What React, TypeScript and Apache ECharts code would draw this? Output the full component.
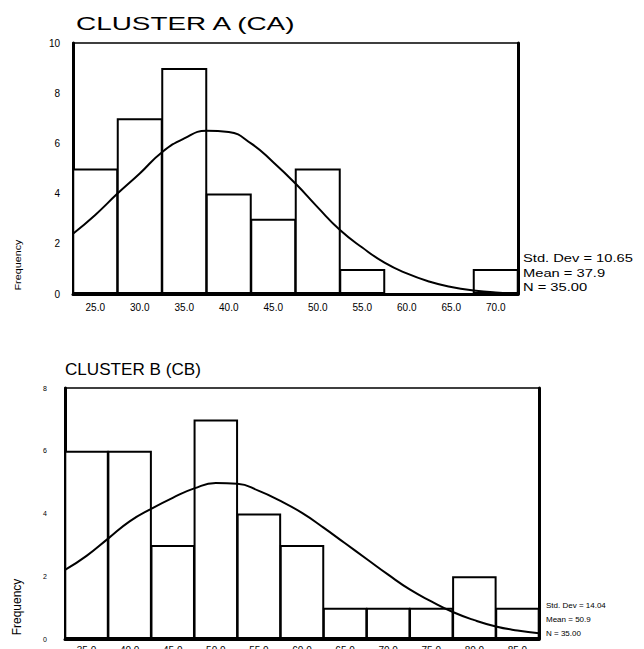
import React, { useEffect, useRef } from "react";
import * as echarts from "echarts";

// Cluster A histogram
const binsA = ["25.0", "30.0", "35.0", "40.0", "45.0", "50.0", "55.0", "60.0", "65.0", "70.0"];
const countsA = [5, 7, 9, 4, 3, 5, 1, 0, 0, 1];
const curveXA = [22.5, 25, 27.5, 30, 32.5, 35, 37.5, 40, 42.5, 45, 47.5, 50, 52.5, 55, 57.5, 60, 62.5, 65, 67.5, 70, 72.5];
const curveYA = [2.4, 3.15, 4.0, 4.8, 5.65, 6.2, 6.5, 6.45, 6.0, 5.25, 4.4, 3.45, 2.55, 1.85, 1.25, 0.82, 0.5, 0.28, 0.14, 0.06, 0.03];
const statsA = ["Std. Dev = 10.65", "Mean = 37.9", "N = 35.00"];

// Cluster B histogram
const binsB = ["35.0", "40.0", "45.0", "50.0", "55.0", "60.0", "65.0", "70.0", "75.0", "80.0", "85.0"];
const countsB = [6, 6, 3, 7, 4, 3, 1, 1, 1, 2, 1];
const curveXB = [32.5, 35, 37.5, 40, 42.5, 45, 47.5, 50, 52.5, 55, 57.5, 60, 62.5, 65, 67.5, 70, 72.5, 75, 77.5, 80, 82.5, 85, 87.5];
const curveYB = [2.2, 2.65, 3.2, 3.75, 4.15, 4.5, 4.8, 4.97, 4.95, 4.72, 4.4, 4.02, 3.55, 3.05, 2.55, 2.05, 1.58, 1.2, 0.86, 0.6, 0.4, 0.27, 0.18];
const statsB = ["Std. Dev = 14.04", "Mean = 50.9", "N = 35.00"];

const FONT = "Liberation Sans, Arial, sans-serif";

export default function App() {
  const ref = useRef<HTMLDivElement>(null);
  useEffect(() => {
    document.body.style.margin = "0";
    if (!ref.current) return;
    const chart = echarts.init(ref.current, undefined, { renderer: "svg" });
    const black = "#000";
    const axisLine = { show: true, lineStyle: { color: black, width: 3 } };
    const option: any = {
      animation: false,
      backgroundColor: "#fff",
      textStyle: { fontFamily: FONT },
      grid: [
        { left: 73, top: 43, width: 445, height: 251, show: true, borderColor: black, borderWidth: 1.5, outerBoundsMode: "none", containLabel: false },
        { left: 65, top: 388, width: 474, height: 251, show: true, borderColor: black, borderWidth: 1.5, outerBoundsMode: "none", containLabel: false },
      ],
      xAxis: [
        {
          type: "category", gridIndex: 0, data: binsA, axisLine, axisTick: { show: false },
          axisLabel: { color: black, fontSize: 10, margin: 8, fontFamily: FONT },
        },
        { type: "value", gridIndex: 0, min: 22.5, max: 72.5, show: false },
        {
          type: "category", gridIndex: 1, data: binsB, axisLine, axisTick: { show: false },
          axisLabel: { color: black, fontSize: 10, margin: 6, fontFamily: FONT },
        },
        { type: "value", gridIndex: 1, min: 32.5, max: 87.5, show: false },
      ],
      yAxis: [
        {
          type: "value", gridIndex: 0, min: 0, max: 10, interval: 2, axisLine, axisTick: { show: false },
          splitLine: { show: false }, axisLabel: { color: black, fontSize: 10, margin: 13, fontFamily: FONT },
        },
        {
          type: "value", gridIndex: 0, position: "right", min: 0, max: 10, interval: 2, axisLine,
          axisTick: { show: false }, splitLine: { show: false }, axisLabel: { show: false },
        },
        {
          type: "value", gridIndex: 1, min: 0, max: 8, interval: 2, axisLine, axisTick: { show: false },
          splitLine: { show: false }, axisLabel: { color: black, fontSize: 7, margin: 18, fontFamily: FONT },
        },
        {
          type: "value", gridIndex: 1, position: "right", min: 0, max: 8, interval: 2, axisLine,
          axisTick: { show: false }, splitLine: { show: false }, axisLabel: { show: false },
        },
      ],
      series: [
        {
          type: "bar", xAxisIndex: 0, yAxisIndex: 0, data: countsA, barWidth: 46,
          itemStyle: { color: "#fff", borderColor: black, borderWidth: 2 },
        },
        {
          type: "line", xAxisIndex: 1, yAxisIndex: 0, data: curveXA.map((x, i) => [x, curveYA[i]]),
          smooth: true, symbol: "none", lineStyle: { color: black, width: 2 }, z: 5,
        },
        {
          type: "bar", xAxisIndex: 2, yAxisIndex: 2, data: countsB, barWidth: 44.5,
          itemStyle: { color: "#fff", borderColor: black, borderWidth: 2 },
        },
        {
          type: "line", xAxisIndex: 3, yAxisIndex: 2, data: curveXB.map((x, i) => [x, curveYB[i]]),
          smooth: true, symbol: "none", lineStyle: { color: black, width: 2 }, z: 5,
        },
      ],
      graphic: [
        {
          type: "text", x: 76, y: 23.5, scaleX: 1.55,
          style: { text: "CLUSTER A (CA)", fill: black, font: `18px ${FONT}`, verticalAlign: "middle" },
        },
        {
          type: "text", x: 65, y: 370, scaleX: 1.07,
          style: { text: "CLUSTER B (CB)", fill: black, font: `16px ${FONT}`, verticalAlign: "middle" },
        },
        {
          type: "text", x: 18, y: 265, rotation: Math.PI / 2, scaleX: 1.2,
          style: { text: "Frequency", fill: black, font: `9px ${FONT}`, align: "center", verticalAlign: "middle" },
        },
        {
          type: "text", x: 17, y: 607, rotation: Math.PI / 2,
          style: { text: "Frequency", fill: black, font: `12px ${FONT}`, align: "center", verticalAlign: "middle" },
        },
        ...statsA.map((t, i) => ({
          type: "text", x: 523, y: [259, 274, 288][i], scaleX: 1.47,
          style: { text: t, fill: black, font: `10px ${FONT}`, verticalAlign: "middle" },
        })),
        ...statsB.map((t, i) => ({
          type: "text", x: 546, y: [605.5, 619, 633][i],
          style: { text: t, fill: black, font: `8px ${FONT}`, verticalAlign: "middle" },
        })),
      ],
    };
    chart.setOption(option);
    return () => chart.dispose();
  }, []);
  return <div ref={ref} style={{ width: 644, height: 649, overflow: "hidden" }} />;
}
